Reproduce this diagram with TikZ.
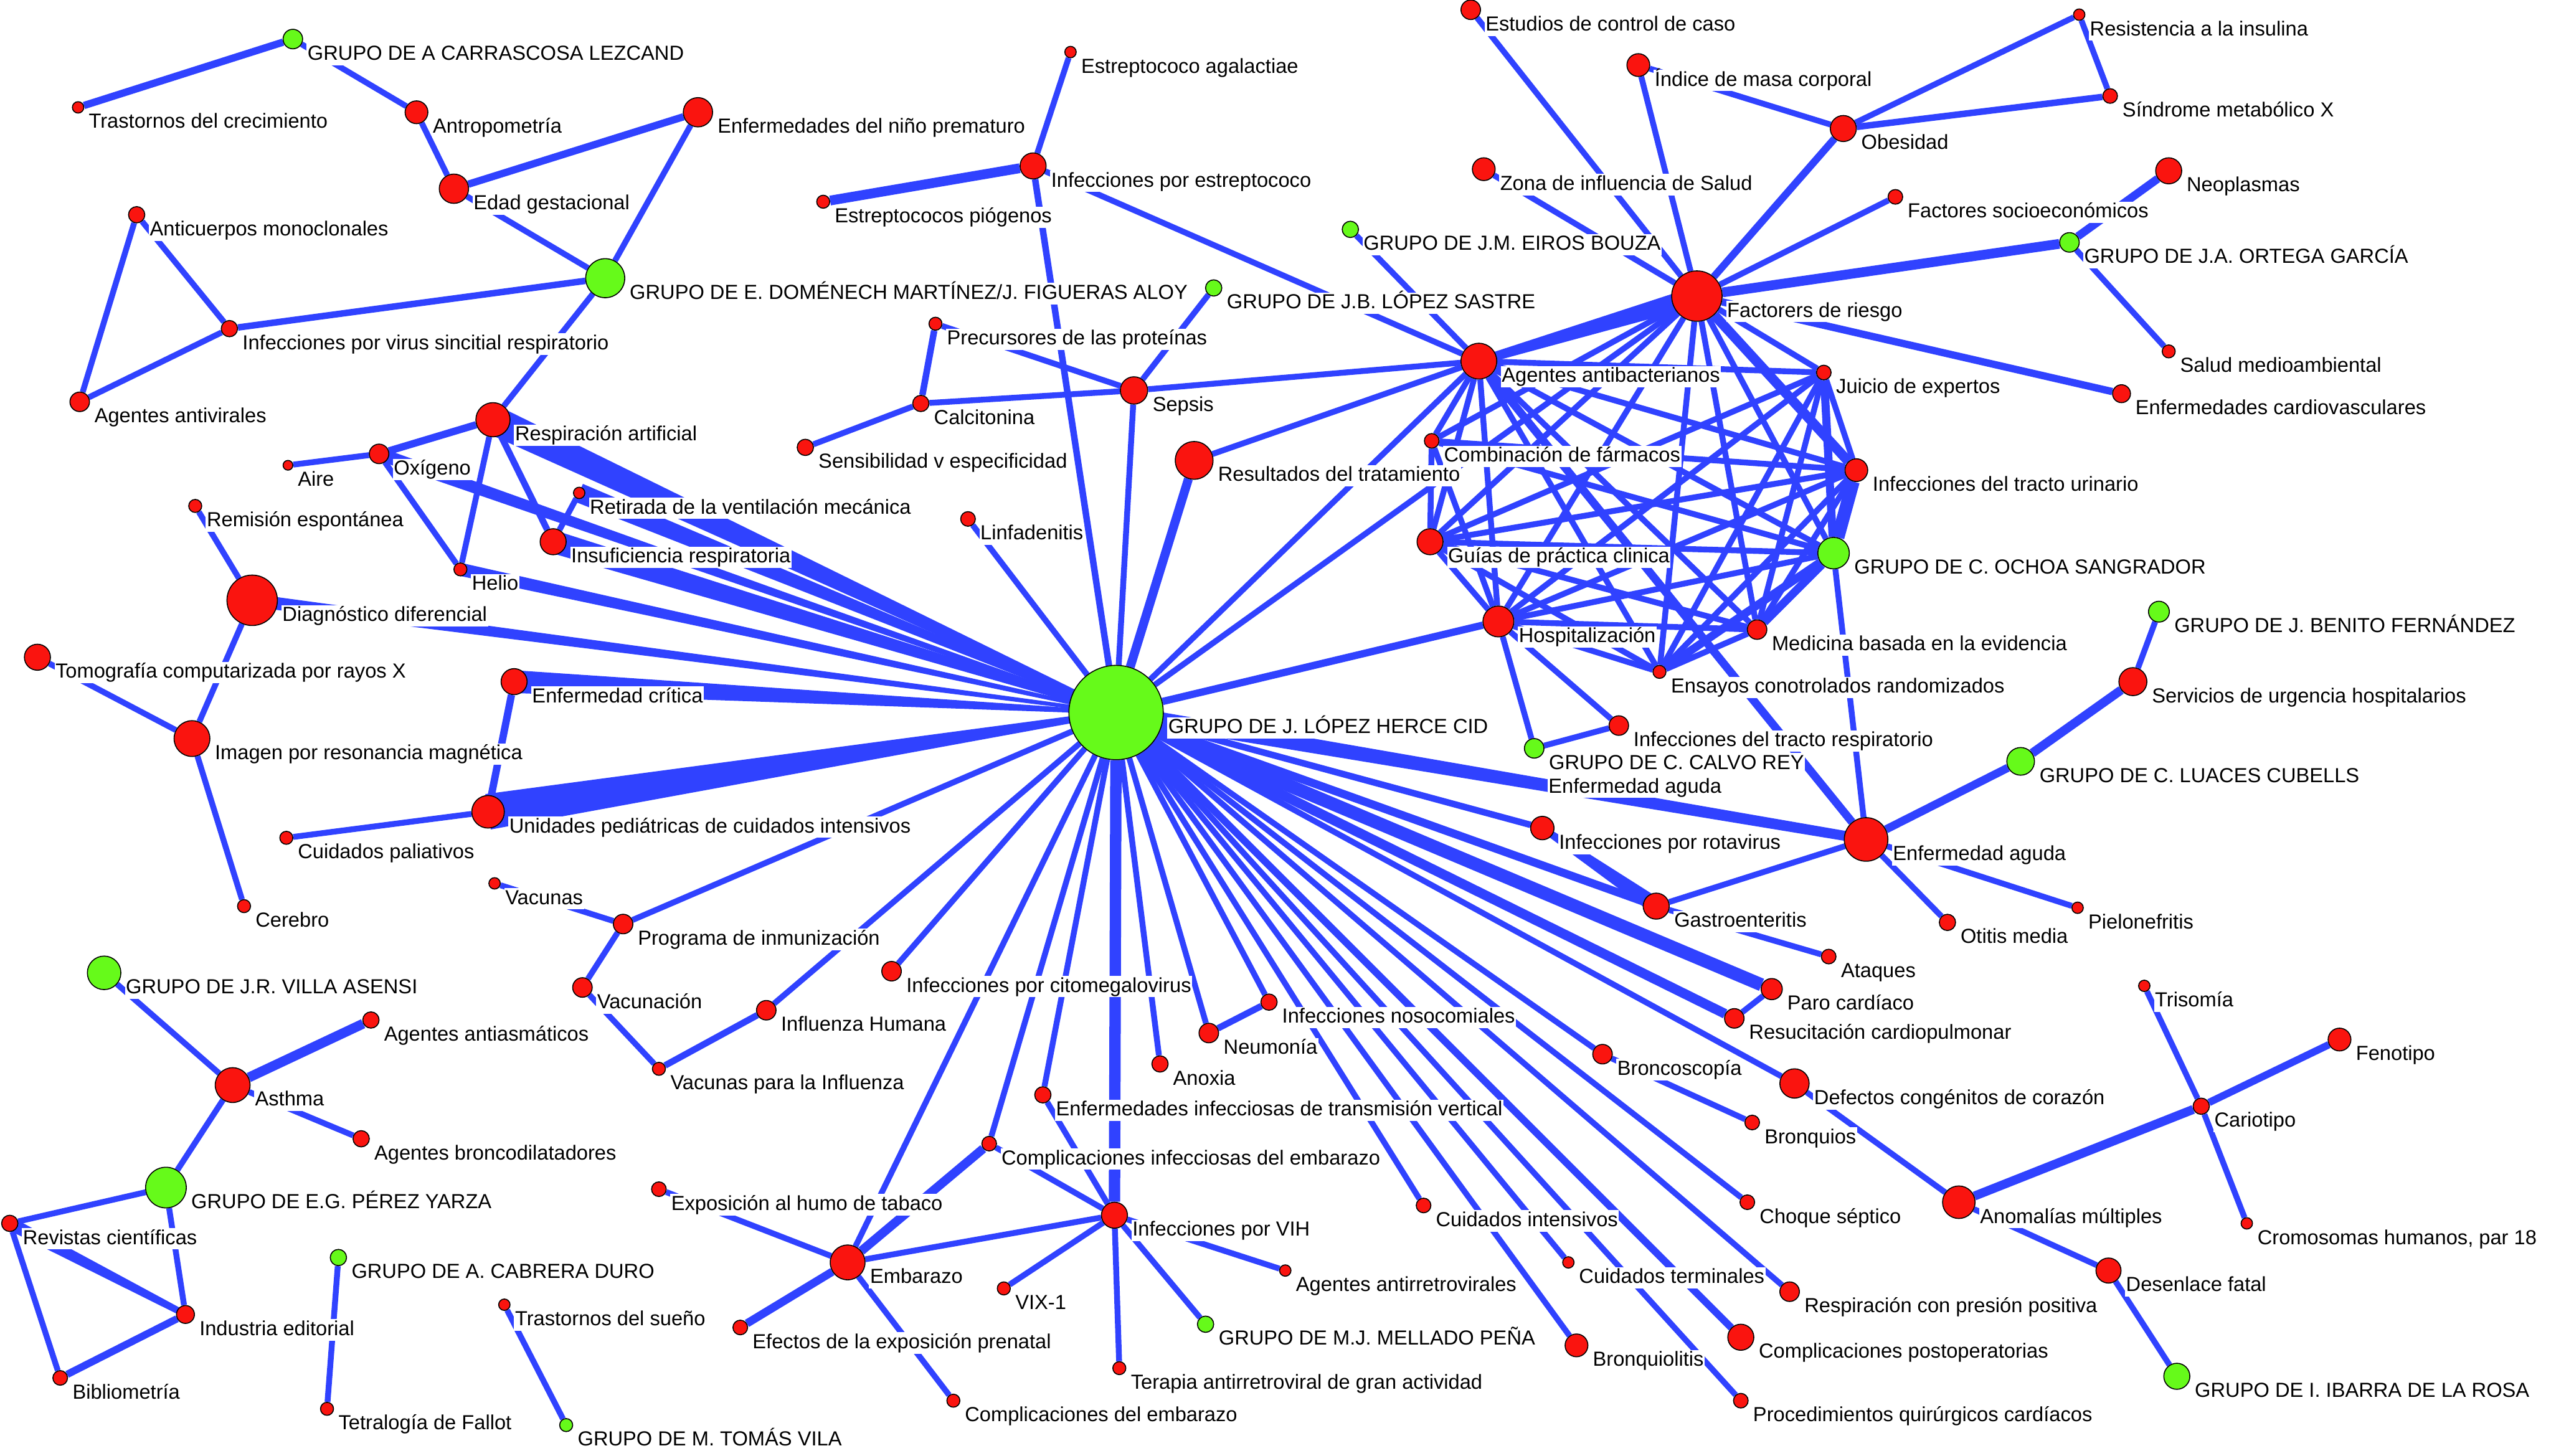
\documentclass[tikz,border=0pt]{standalone}
\usepackage{fontspec}
\setmainfont{Liberation Sans}
\usetikzlibrary{calc}
\definecolor{eblue}{RGB}{48,66,255}
\definecolor{nred}{RGB}{250,20,15}
\definecolor{ngreen}{RGB}{102,250,26}
\pgfdeclarelayer{bg}
\pgfsetlayers{bg,main}

\begin{document}
\begin{tikzpicture}[x=1pt,y=-1pt,
  term/.style={circle,draw=black,line width=0.6pt,fill=nred,inner sep=0pt},
  grupo/.style={term,fill=ngreen},
  lab/.style={anchor=west,fill=white,inner sep=0.6pt,text height=9.3pt,text depth=2.6pt,font=\fontsize{12.5}{14}\selectfont},
  edge/.style={draw=eblue}]
  \useasboundingbox (0,0) rectangle (1568,895);

  % grupos de investigacion
  \foreach \id/\x/\y/\r/\t in {
    carr/180/24/6/GRUPO DE A CARRASCOSA LEZCAND,
    dome/372/171/12/{GRUPO DE E. DOMÉNECH MARTÍNEZ/J. FIGUERAS ALOY},
    sast/746/177/5/GRUPO DE J.B. LÓPEZ SASTRE,
    eiro/830/141/5/GRUPO DE J.M. EIROS BOUZA,
    orte/1272/149/6/GRUPO DE J.A. ORTEGA GARCÍA,
    ocho/1127/340/9.7/GRUPO DE C. OCHOA SANGRADOR,
    beni/1327/376/6.4/GRUPO DE J. BENITO FERNÁNDEZ,
    calv/943/460/6/GRUPO DE C. CALVO REY,
    luac/1242/468/8.5/GRUPO DE C. LUACES CUBELLS,
    lope/686/438/29/GRUPO DE J. LÓPEZ HERCE CID,
    vill/64/598/10.3/GRUPO DE J.R. VILLA ASENSI,
    pere/102/730/12.5/GRUPO DE E.G. PÉREZ YARZA,
    cabr/208/773/5/GRUPO DE A. CABRERA DURO,
    toma/348/876/4/GRUPO DE M. TOMÁS VILA,
    mell/741/814/5/GRUPO DE M.J. MELLADO PEÑA,
    ibar/1338/846/8/GRUPO DE I. IBARRA DE LA ROSA}{
    \node[grupo,minimum size={2*\r*1pt}] (\id) at (\x,\y) {};
    \node[lab] (\id-t) at ([xshift=2pt,yshift=-9.5pt]\id.east) {\t};
  }

  % descriptores
  \foreach \id/\x/\y/\r/\t in {
    trcr/48/66/3.5/Trastornos del crecimiento,
    antr/256/69/7/Antropometría,
    enfp/429/69/9/Enfermedades del niño prematuro,
    edad/279/116/9/Edad gestacional,
    anti/84/132/5/Anticuerpos monoclonales,
    inve/141/202/5/Infecciones por virus sincitial respiratorio,
    agav/49/247/6/Agentes antivirales,
    resp/303/258/10.5/Respiración artificial,
    aire/177/286/3/Aire,
    oxig/233/279/6/Oxígeno,
    reti/356/303/3.5/Retirada de la ventilación mecánica,
    insu/340/333/8/Insuficiencia respiratoria,
    heli/283/350/4/Helio,
    remi/120/311/4/Remisión espontánea,
    diag/155/369/15.5/Diagnóstico diferencial,
    tomo/23/404/8/Tomografía computarizada por rayos X,
    imag/118/454/11/Imagen por resonancia magnética,
    cere/150/557/4/Cerebro,
    encr/316/419/8/Enfermedad crítica,
    unid/300/499/10/Unidades pediátricas de cuidados intensivos,
    cpal/176/515/4/Cuidados paliativos,
    vacu/304/543/3.5/Vacunas,
    prog/383/568/6/Programa de inmunización,
    vacn/358/607/6/Vacunación,
    infh/471/621/6/Influenza Humana,
    vinf/405/657/4/Vacunas para la Influenza,
    anas/228/627/5/Agentes antiasmáticos,
    asth/143/667/10.7/Asthma,
    abro/222/700/5/Agentes broncodilatadores,
    revi/6/752/5/Revistas científicas,
    indu/114/808/5.5/Industria editorial,
    bibl/37/847/4.5/Bibliometría,
    tetr/201/866/4/Tetralogía de Fallot,
    trsu/310/802/3.5/Trastornos del sueño,
    eaga/658/32/3.5/Estreptococo agalactiae,
    iest/635/102/8/Infecciones por estreptococo,
    epio/506/124/4/Estreptococos piógenos,
    prec/575/199/4/Precursores de las proteínas,
    seps/697/240/8.4/Sepsis,
    calci/566/248/5/Calcitonina,
    sens/495/275/5/Sensibilidad v especificidad,
    linf/595/319/4.5/Linfadenitis,
    resu/734/283/11.6/Resultados del tratamiento,
    icmv/548/597/6/Infecciones por citomegalovirus,
    neum/743/635/6/Neumonía,
    inos/780/616/5/Infecciones nosocomiales,
    anox/713/654/5/Anoxia,
    etv/641/673/5/Enfermedades infecciosas de transmisión vertical,
    cie/608/703/4.5/Complicaciones infecciosas del embarazo,
    humo/405/731/4.5/Exposición al humo de tabaco,
    vih/685/747/8/Infecciones por VIH,
    emba/521/776/10.7/Embarazo,
    vix/617/792/4/VIX-1,
    aarv/790/781/3.5/Agentes antirretrovirales,
    efex/455/816/4.5/Efectos de la exposición prenatal,
    tarv/688/841/4/Terapia antirretroviral de gran actividad,
    cemb/586/861/4/Complicaciones del embarazo,
    estu/904/6/6/Estudios de control de caso,
    imc/1007/40/7/Índice de masa corporal,
    rins/1278/9/3.5/Resistencia a la insulina,
    smx/1297/59/4.5/Síndrome metabólico X,
    obes/1133/79/8/Obesidad,
    zona/912/104/7/Zona de influencia de Salud,
    neop/1333/105/8/Neoplasmas,
    fsoc/1165/121/4.5/Factores socioeconómicos,
    fact/1043/182/15.5/Factorers de riesgo,
    salu/1333/216/4/Salud medioambiental,
    agab/909/222/11/Agentes antibacterianos,
    juic/1121/229/4.5/Juicio de expertos,
    ecv/1304/242/5.5/Enfermedades cardiovasculares,
    comb/880/271/4.5/Combinación de fármacos,
    urin/1141/289/7/Infecciones del tracto urinario,
    guia/879/333/8/Guías de práctica clinica,
    hosp/921/382/9.5/Hospitalización,
    medi/1080/387/6/Medicina basada en la evidencia,
    ensa/1020/413/4/Ensayos conotrolados randomizados,
    serv/1311/419/8.6/Servicios de urgencia hospitalarios,
    itr/995/446/6/Infecciones del tracto respiratorio,
    rota/948/509/7.2/Infecciones por rotavirus,
    eagu/1147/516/13.4/Enfermedad aguda,
    gast/1018/557/8/Gastroenteritis,
    otit/1197/567/5/Otitis media,
    piel/1277/558/3.5/Pielonefritis,
    ataq/1124/588/4.5/Ataques,
    paro/1089/608/6.5/Paro cardíaco,
    resc/1066/626/6/Resucitación cardiopulmonar,
    bros/985/648/6/Broncoscopía,
    defe/1103/666/9/Defectos congénitos de corazón,
    bron/1077/690/4.5/Bronquios,
    tris/1318/606/3.5/Trisomía,
    feno/1438/639/7/Fenotipo,
    cari/1353/680/5/Cariotipo,
    anom/1204/739/10/Anomalías múltiples,
    crom/1381/752/3.5/{Cromosomas humanos, par 18},
    choq/1074/739/4.5/Choque séptico,
    cuin/875/741/4.5/Cuidados intensivos,
    cute/964/776/3.5/Cuidados terminales,
    rpp/1100/794/6/Respiración con presión positiva,
    desf/1296/781/7.7/Desenlace fatal,
    brql/969/827/7/Bronquiolitis,
    cpos/1070/822/8/Complicaciones postoperatorias,
    proc/1070/861/4.5/Procedimientos quirúrgicos cardíacos}{
    \node[term,minimum size={2*\r*1pt}] (\id) at (\x,\y) {};
    \node[lab] (\id-t) at ([xshift=2pt,yshift=-9.5pt]\id.east) {\t};
  }
  \node[lab] (eagu-b) at (951,484) {Enfermedad aguda};

  \begin{pgfonlayer}{bg}
    % aristas
    \foreach \a/\b/\w in {
      carr/trcr/4.5, carr/antr/3.6, antr/edad/3.6, edad/enfp/4.5, edad/dome/3.6,
      enfp/dome/3.6, dome/inve/4, dome/resp/3.6, anti/inve/3.6, anti/agav/3.6,
      agav/inve/3.6, resp/oxig/4.5, oxig/aire/3.6, oxig/heli/3.6, resp/heli/3.6,
      resp/insu/4, reti/insu/3.6, remi/diag/3.6, diag/imag/3.6, tomo/imag/3.6,
      imag/cere/3.6, encr/unid/4.5, unid/cpal/3.6, vacu/prog/3.6, prog/vacn/3.6,
      vacn/vinf/3.6, vinf/infh/4, prog/lope/3.6, infh/lope/3.6, icmv/lope/3.6,
      vill/asth/3.6, asth/anas/6, asth/abro/3.6, asth/pere/3.6, pere/revi/3.6,
      pere/indu/3.6, revi/bibl/3.6, bibl/indu/4.5, cabr/tetr/3.6, trsu/toma/3.6,
      eaga/iest/3.6, iest/epio/6, iest/lope/4, iest/agab/3.6, sast/seps/3.6,
      prec/calci/4, prec/seps/3.6, calci/seps/3.6, calci/sens/3.6, seps/lope/3.6,
      seps/agab/3.6, resu/agab/3.6, resu/lope/5.5, linf/lope/3.6,
      estu/fact/3.6, imc/fact/3.6, zona/fact/3.6, eiro/agab/3.6, obes/fact/4.5,
      obes/imc/3.6, obes/rins/3.6, obes/smx/4, rins/smx/3.6, fsoc/fact/3.6,
      orte/fact/6, orte/neop/5, orte/salu/3.6, fact/ecv/4.5,
      agab/juic/3.6, agab/comb/3.6, agab/urin/3.6, agab/guia/3.6, agab/ocho/3.6,
      agab/hosp/3.6, agab/medi/3.6, agab/ensa/3.6,
      fact/juic/3.6, fact/comb/3.6, fact/urin/6, fact/guia/3.6, fact/ocho/3.6,
      fact/hosp/3.6, fact/medi/3.6, fact/ensa/3.6,
      juic/urin/3.6, juic/guia/3.6, juic/ocho/5, juic/hosp/3.6, juic/medi/3.6, juic/ensa/3.6,
      comb/urin/3.6, comb/guia/3.6, comb/ocho/3.6, comb/hosp/3.6,
      urin/guia/3.6, urin/ocho/8, urin/hosp/3.6, urin/medi/3.6, urin/ensa/3.6,
      guia/ocho/3.6, guia/hosp/3.6, guia/medi/3.6, guia/ensa/3.6,
      ocho/hosp/3.6, ocho/medi/5, ocho/ensa/5, hosp/medi/3.6, hosp/ensa/3.6, medi/ensa/3.6,
      hosp/itr/3.6, hosp/calv/3.6, calv/itr/3.6, hosp/lope/4.5, agab/lope/3.6,
      fact/lope/3.6, ocho/eagu/3.6, agab/eagu/5,
      lope/rota/4, lope/gast/5, lope/paro/8, lope/resc/6,
      gast/ataq/3.6, gast/eagu/3.6, eagu/luac/5, luac/serv/5.5, serv/beni/3.6,
      eagu/otit/3.6, eagu/piel/3.6, paro/resc/3.6,
      lope/bros/3.6, bros/bron/3.6, lope/defe/3.6, defe/anom/3.6, anom/cari/5.5,
      anom/desf/3.6, desf/ibar/3.6, cari/tris/3.6, cari/feno/4.5, cari/crom/3.6,
      lope/choq/3.6, lope/rpp/3.6, lope/cpos/4.5, lope/proc/3.6, lope/cute/3.6,
      lope/brql/3.6, lope/cuin/3.6, lope/inos/3.6, inos/neum/4, lope/neum/3.6,
      lope/anox/3.6, lope/etv/3.6, lope/cie/3.6, lope/emba/3.6, lope/vih/7,
      vih/emba/3.6, vih/vix/3.6, vih/aarv/3.6, vih/mell/3.6, vih/tarv/3.6,
      vih/cie/3.6, vih/etv/3.6,
      emba/humo/3.6, emba/efex/5, emba/cemb/3.6, emba/cie/5.5}
      \draw[edge,line width=\w pt] (\a) -- (\b);

    % aristas en cuna
    \foreach \a/\b/\wa/\wb in {
      resp/lope/9pt/1.5pt, insu/lope/7pt/1.5pt, reti/lope/6pt/1pt,
      oxig/lope/4pt/1pt, heli/lope/4pt/1pt, diag/lope/4pt/1pt,
      encr/lope/7pt/1pt, unid/lope/11pt/1.5pt, revi/indu/4pt/2pt,
      rota/gast/2pt/5pt, agab/fact/2.5pt/6pt, lope/eagu/5pt/3pt}
      \fill[eblue] ($(\a)!\wa!90:(\b)$) -- ($(\b)!\wb!-90:(\a)$)
        -- ($(\b)!\wb!90:(\a)$) -- ($(\a)!\wa!-90:(\b)$) -- cycle;
  \end{pgfonlayer}
\end{tikzpicture}
\end{document}
